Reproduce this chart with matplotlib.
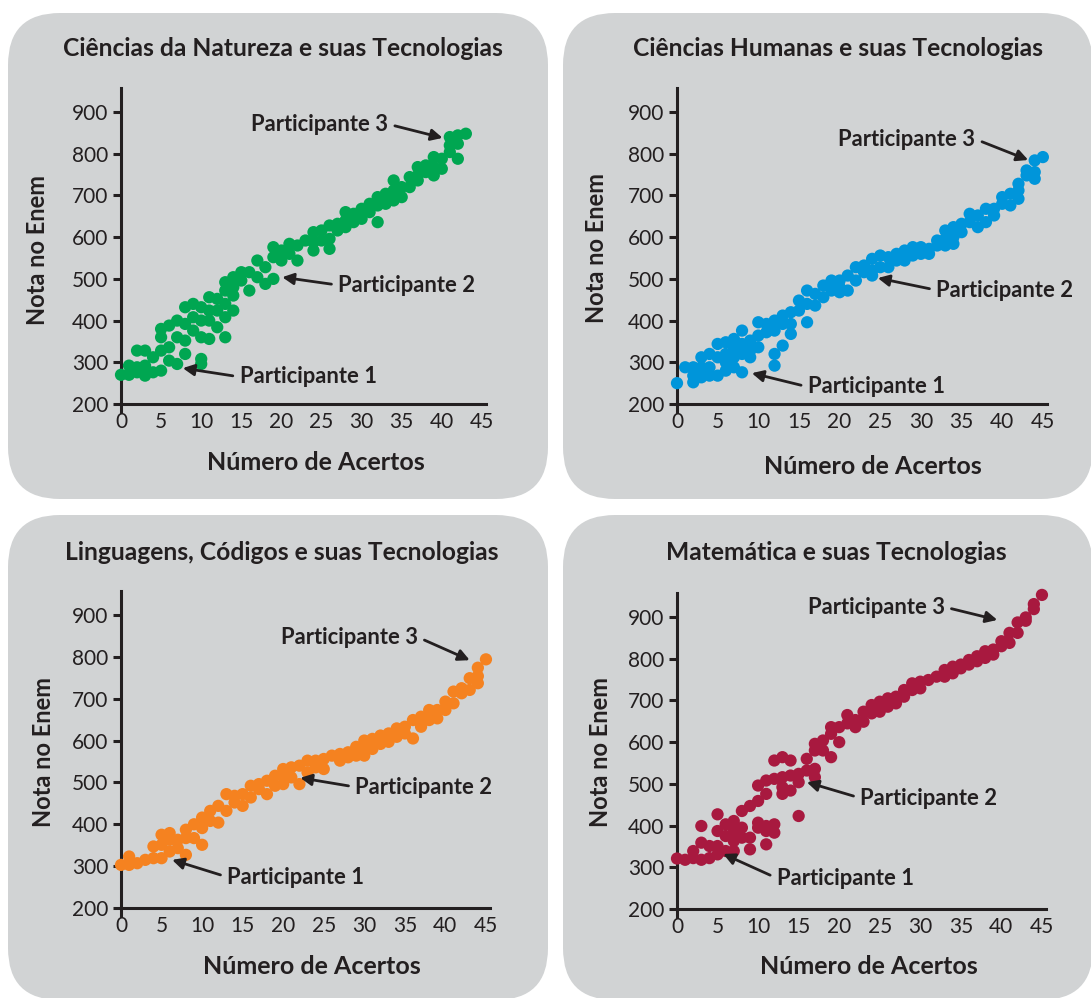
import matplotlib
matplotlib.use("Agg")
import matplotlib.pyplot as plt
from matplotlib.patches import FancyBboxPatch

# ---------------- data (Nota no Enem por número de acertos) ----------------
acertos_ticks = [0, 5, 10, 15, 20, 25, 30, 35, 40, 45]
nota_ticks = [200, 300, 400, 500, 600, 700, 800, 900]

# index of outer list = número de acertos (0..45)
natureza_notas = [
    [270], [270, 292], [328, 288, 276], [328, 292, 268], [312, 276],
    [360, 380, 328, 280], [388, 336, 304], [400, 360, 296], [432, 392, 352, 320],
    [440, 408, 376], [432, 400, 360, 308, 296], [456, 424, 400, 356], [452, 424, 384],
    [492, 472, 440, 408, 360], [504, 480, 460, 424], [516, 496], [516, 472], [544, 504],
    [528, 488], [576, 552, 500], [568, 544], [584, 560], [580, 544], [592],
    [612, 588, 568], [616, 592], [628, 596, 572], [632, 616], [660, 640, 624],
    [656, 636], [668, 644], [680, 660], [696, 676, 636], [704, 680], [736, 712, 688],
    [720, 696], [744, 720], [768, 748, 736], [772, 756], [792, 768, 748], [788, 764],
    [840, 820, 804], [844, 824, 788], [848], [], [],
]
humanas_notas = [
    [250], [288], [288, 268, 252], [312, 288, 264], [320, 288, 268],
    [344, 312, 268], [348, 320, 300, 280], [356, 332, 312, 288], [376, 344, 320, 276],
    [352, 328, 312], [396, 364, 336], [392, 372], [400, 376, 320, 292],
    [412, 392, 340], [420, 392, 368], [448, 424], [472, 440, 396], [464, 436],
    [484, 456], [496, 472], [496, 480, 468], [508, 472], [528, 496], [532, 516],
    [548, 520, 508], [556, 528], [552, 528], [560, 544], [568, 544], [576, 556],
    [576, 560], [572, 560], [592, 580], [616, 596, 580], [624, 600, 584], [632, 612],
    [656, 636], [652, 624], [668, 636], [668, 652], [696, 680], [704, 676],
    [728, 712, 692], [760, 748], [784, 756, 740], [792],
]
linguagens_notas = [
    [303], [323, 303], [307], [315], [347, 319], [375, 351, 319], [379, 363, 335],
    [363, 343], [387, 367, 327], [400, 367], [416, 391, 351], [432, 408], [444, 404],
    [472, 432], [468, 452], [472, 444], [492, 464], [496, 484], [504, 472], [516, 492],
    [532, 516, 496], [536, 512], [540, 496], [552, 524], [552, 536], [556, 532], [564],
    [568, 552], [572, 560], [585, 564], [600, 585, 564], [604, 580], [612, 592],
    [617, 597], [629, 609], [633, 617], [649, 605], [657, 633], [673, 649], [673, 653],
    [693, 673], [717, 689], [725, 713], [749, 721], [774, 754, 737], [794],
]
matematica_notas = [
    [321], [318], [339, 322], [399, 359, 318], [351, 322], [427, 387, 351, 331],
    [403, 375, 339], [411, 387, 363, 339], [435, 395, 371], [447, 371, 343],
    [496, 459, 407, 395], [508, 476, 399, 387, 355], [556, 512, 403, 383],
    [564, 516, 492, 476], [556, 520, 484], [524, 504, 423], [560, 532],
    [596, 580, 536, 516], [604, 580], [636, 620, 564], [636, 600], [665, 645],
    [653, 636], [673, 649], [689, 669], [697, 673], [705, 685], [709, 693], [725, 709],
    [741, 725], [745, 729], [749], [757], [773, 757], [781, 765], [786, 777], [797, 786],
    [806, 794], [818, 802], [822, 810], [842, 830], [862, 838], [887, 862], [899, 891],
    [931, 919], [953],
]

titulos = ["Ciências da Natureza e suas Tecnologias",
           "Ciências Humanas e suas Tecnologias",
           "Linguagens, Códigos e suas Tecnologias",
           "Matemática e suas Tecnologias"]
cores = ["#00a651", "#0095da", "#f58220", "#a8193f"]
participantes = ["Participante 1", "Participante 2", "Participante 3"]

# ---------------- layout ----------------
W, H = 1091, 998
BG = "#d1d3d4"
TXT = "#231f20"
FONT = "Lato"

fig = plt.figure(figsize=(W / 100, H / 100), dpi=100)
fig.patch.set_facecolor("white")
bg = fig.add_axes([0, 0, 1, 1])
bg.set_xlim(0, W)
bg.set_ylim(H, 0)
bg.axis("off")

panels = [
    dict(rect=(8, 13, 548, 499), x0=121, xs=8.02, y200=404, ys=0.4171,
         title_xy=(283, 48), ylab_xy=(38, 250), xlab_xy=(316, 462),
         notas=natureza_notas,
         ann=[((7.7, 286), (14.8, 265), "left"),
              ((20.1, 504), (27.1, 485), "left"),
              ((40.1, 838), (33.3, 871), "right")]),
    dict(rect=(563, 13, 1093, 499), x0=677, xs=8.13, y200=404, ys=0.4171,
         title_xy=(838, 48), ylab_xy=(596, 248), xlab_xy=(873, 466),
         notas=humanas_notas,
         ann=[((9.2, 274), (16.1, 241), "left"),
              ((24.7, 502), (31.9, 473), "left"),
              ((43.2, 785), (36.7, 835), "right")]),
    dict(rect=(8, 515, 548, 1000), x0=121, xs=8.11, y200=908, ys=0.4186,
         title_xy=(282, 552), ylab_xy=(44, 752), xlab_xy=(312, 967),
         notas=linguagens_notas,
         ann=[((6.3, 315), (13.1, 274), "left"),
              ((22.1, 511), (28.9, 489), "left"),
              ((43.0, 792), (36.6, 847), "right")]),
    dict(rect=(563, 515, 1093, 1000), x0=677, xs=8.11, y200=909, ys=0.4171,
         title_xy=(836, 552), ylab_xy=(600, 752), xlab_xy=(869, 966),
         notas=matematica_notas,
         ann=[((5.7, 332), (12.3, 274), "left"),
              ((16.0, 504), (22.6, 466), "left"),
              ((39.5, 893), (33.0, 924), "right")]),
]

XMIN, XMAX = -1.5, 46.5
YMIN, YMAX = 180, 962

for i, p in enumerate(panels):
    x_a, y_a, x_b, y_b = p["rect"]
    bg.add_patch(FancyBboxPatch((x_a, y_a), x_b - x_a, y_b - y_a,
                                boxstyle="round,pad=0,rounding_size=52",
                                facecolor=BG, edgecolor="none", zorder=0))
    bg.text(*p["title_xy"], titulos[i], ha="center", va="center",
            fontsize=17.7, fontweight="bold", color=TXT, family=FONT)
    bg.text(*p["ylab_xy"], "Nota no Enem", ha="center", va="center",
            rotation=90, fontsize=17, fontweight="bold", color=TXT, family=FONT)
    bg.text(*p["xlab_xy"], "Número de Acertos", ha="center", va="center",
            fontsize=18, fontweight="bold", color=TXT, family=FONT)

    left_px = p["x0"] + XMIN * p["xs"]
    width_px = (XMAX - XMIN) * p["xs"]
    bottom_px = p["y200"] + (200 - YMIN) * p["ys"]
    height_px = (YMAX - YMIN) * p["ys"]
    ax = fig.add_axes([left_px / W, 1 - bottom_px / H, width_px / W, height_px / H])
    ax.patch.set_alpha(0)
    ax.set_xlim(XMIN, XMAX)
    ax.set_ylim(YMIN, YMAX)

    xs_pts, ys_pts = [], []
    for ac, lst in enumerate(p["notas"]):
        for v in lst:
            xs_pts.append(ac)
            ys_pts.append(v)
    ax.scatter(xs_pts, ys_pts, s=78, color=cores[i], edgecolors="none",
               zorder=4, clip_on=False)

    for s in ["top", "right"]:
        ax.spines[s].set_visible(False)
    ax.spines["left"].set_position(("data", 0))
    ax.spines["bottom"].set_position(("data", 200))
    ax.spines["left"].set_bounds(YMIN, 957)
    ax.spines["bottom"].set_bounds(0, 45.5)
    for s in ["left", "bottom"]:
        ax.spines[s].set_linewidth(2.2)
        ax.spines[s].set_color(TXT)
        ax.spines[s].set_zorder(2)
    ax.set_yticks(nota_ticks)
    ax.set_xticks(acertos_ticks)
    ax.tick_params(axis="y", direction="out", length=6, width=2.2, color=TXT,
                   labelsize=15, labelcolor=TXT, pad=3)
    ax.tick_params(axis="x", length=0, labelsize=15, labelcolor=TXT, pad=6)
    for lab in ax.get_xticklabels() + ax.get_yticklabels():
        lab.set_family(FONT)

    for (tip, txt, ha), name in zip(p["ann"], participantes):
        ax.annotate(name, xy=tip, xytext=txt, ha=ha, va="center",
                    fontsize=15.8, fontweight="bold", color=TXT, family=FONT,
                    annotation_clip=False, zorder=5,
                    arrowprops=dict(arrowstyle="-|>", color=TXT, lw=2,
                                    mutation_scale=17, shrinkA=3, shrinkB=0,
                                    relpos=(0 if ha == "left" else 1, 0.5)))

fig.savefig("out.png", dpi=100, facecolor="white")
